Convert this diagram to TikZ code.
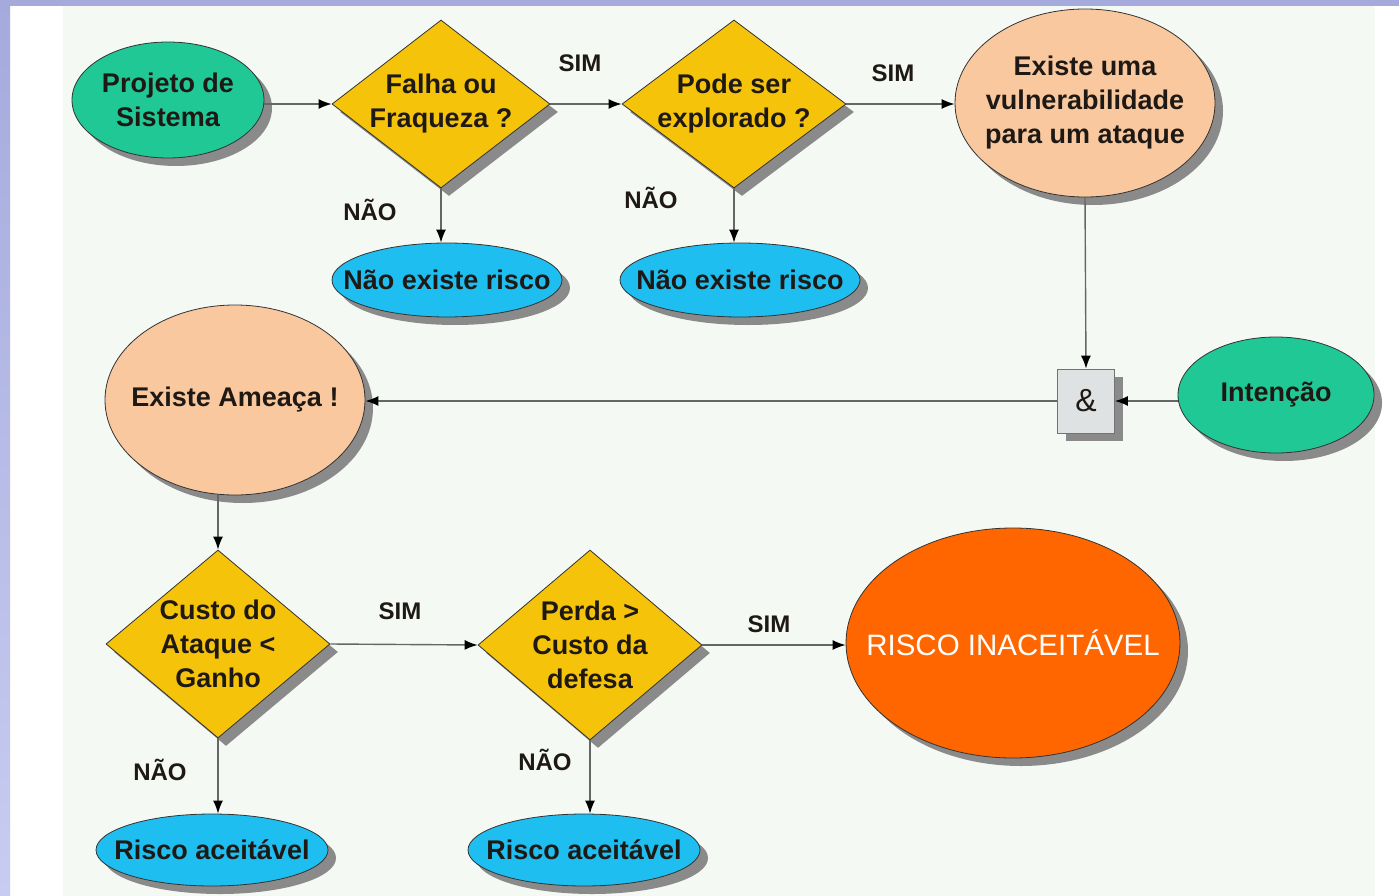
\documentclass[tikz,border=0pt]{standalone}
\usepackage{fontspec}
\setmainfont{Liberation Sans}
\usetikzlibrary{shapes.geometric,shadows,arrows.meta}
\definecolor{cgreen}{RGB}{32,200,150}
\definecolor{cyellow}{RGB}{245,195,10}
\definecolor{cpeach}{RGB}{249,200,158}
\definecolor{ccyan}{RGB}{30,190,240}
\definecolor{corange}{RGB}{255,102,0}
\definecolor{cshadow}{RGB}{138,138,138}
\definecolor{cpanel}{RGB}{245,249,244}
\definecolor{clav}{RGB}{164,170,220}
\definecolor{clavlight}{RGB}{200,204,242}
\definecolor{cbox}{RGB}{222,226,226}
\definecolor{ctext}{RGB}{30,25,20}
\tikzset{
  shad/.style={drop shadow={shadow xshift=8pt,shadow yshift=-8pt,fill=cshadow,opacity=1}},
  tx/.style={align=center,text=ctext,inner sep=0pt,font=\bfseries\fontsize{27}{34}\selectfont},
  txw/.style={tx,text=white,font=\fontsize{29.5}{34}\selectfont},
  base/.style={draw=black!80,line width=0.8pt,inner sep=0pt,shad},
  ell/.style={base,ellipse},
  dia/.style={base,diamond,fill=cyellow},
  lbl/.style={font=\bfseries\fontsize{24}{28}\selectfont,text=ctext,inner sep=0pt},
  conn/.style={draw=black!60,line width=1.4pt,-{Latex[length=13pt,width=10pt,black]}},
}
\begin{document}
\begin{tikzpicture}[x=1pt,y=-1pt]
\useasboundingbox (0,0) rectangle (1399,896);
\fill[white] (0,0) rectangle (1399,896);
\fill[cpanel] (63,6) rectangle (1375,896);
\shade[top color=clav,bottom color=clavlight] (0,0) rectangle (10,896);
\fill[clav] (0,0) rectangle (1399,6);

% nodes
\node[ell,fill=cgreen,minimum width=192pt,minimum height=116pt,
  label={[tx]center:{Projeto de\\Sistema}}] (proj) at (168,100) {};
\node[dia,minimum width=218pt,minimum height=168pt,
  label={[tx]center:{Falha ou\\Fraqueza ?}}] (falha) at (441,104) {};
\node[dia,minimum width=224pt,minimum height=168pt,
  label={[tx]center:{Pode ser\\explorado ?}}] (pode) at (734,104) {};
\node[ell,fill=cpeach,minimum width=260pt,minimum height=188pt,
  label={[tx]center:{Existe uma\\vulnerabilidade\\para um ataque}}] (vuln) at (1085,103) {};
\node[ell,fill=ccyan,minimum width=230pt,minimum height=74pt,
  label={[tx]center:{Não existe risco}}] (nao1) at (447,280) {};
\node[ell,fill=ccyan,minimum width=240pt,minimum height=74pt,
  label={[tx]center:{Não existe risco}}] (nao2) at (740,280) {};
\node[base,rectangle,fill=cbox,draw=black!55,minimum width=57pt,minimum height=64pt,
  label={[tx,font=\fontsize{32}{34}\selectfont]center:{\&}}] (and) at (1086,401) {};
\node[ell,fill=cgreen,minimum width=196pt,minimum height=116pt,
  label={[tx]center:{Intenção}}] (inten) at (1276,395) {};
\node[ell,fill=cpeach,minimum width=260pt,minimum height=190pt,
  label={[tx]center:{Existe Ameaça !}}] (ameaca) at (235,400) {};
\node[dia,minimum width=224pt,minimum height=188pt,
  label={[tx]center:{Custo do\\Ataque <\\Ganho}}] (custo) at (218,644) {};
\node[dia,minimum width=224pt,minimum height=190pt,
  label={[tx]center:{Perda >\\Custo da\\defesa}}] (perda) at (590,645) {};
\node[ell,fill=corange,minimum width=334pt,minimum height=230pt,
  label={[txw]center:{RISCO INACEITÁVEL}}] (risco) at (1013,643) {};
\node[ell,fill=ccyan,minimum width=232pt,minimum height=72pt,
  label={[tx]center:{Risco aceitável}}] (ac1) at (212,850) {};
\node[ell,fill=ccyan,minimum width=232pt,minimum height=72pt,
  label={[tx]center:{Risco aceitável}}] (ac2) at (584,850) {};

% labels
\node[lbl] (s1) at (580,63) {SIM};
\node[lbl] (s2) at (893,73) {SIM};
\node[lbl] (n1) at (370,210) {NÃO};
\node[lbl] (n2) at (651,198) {NÃO};
\node[lbl] (s3) at (400,611) {SIM};
\node[lbl] (s4) at (769,624) {SIM};
\node[lbl] (n3) at (160,770) {NÃO};
\node[lbl] (n4) at (545,760) {NÃO};

% connectors
\draw[conn] (falha.west -| proj.east) -- (falha.west);
\draw[conn] (falha.east) -- (pode.west);
\draw[conn] (pode.east) -- (pode.east -| vuln.west);
\draw[conn] (falha.south) -- (falha.south |- nao1.north);
\draw[conn] (pode.south) -- (pode.south |- nao2.north);
\draw[conn] (vuln.south) -- (and.north);
\draw[conn] (inten.west |- and.east) -- (and.east);
\draw[conn] (and.west) -- (and.west -| ameaca.east);
\draw[conn] (custo.north |- ameaca.south) -- (custo.north);
\draw[conn] (custo.east) -- (perda.west);
\draw[conn] (perda.east) -- (perda.east -| risco.west);
\draw[conn] (custo.south) -- (custo.south |- ac1.north);
\draw[conn] (perda.south) -- (perda.south |- ac2.north);
\end{tikzpicture}
\end{document}
